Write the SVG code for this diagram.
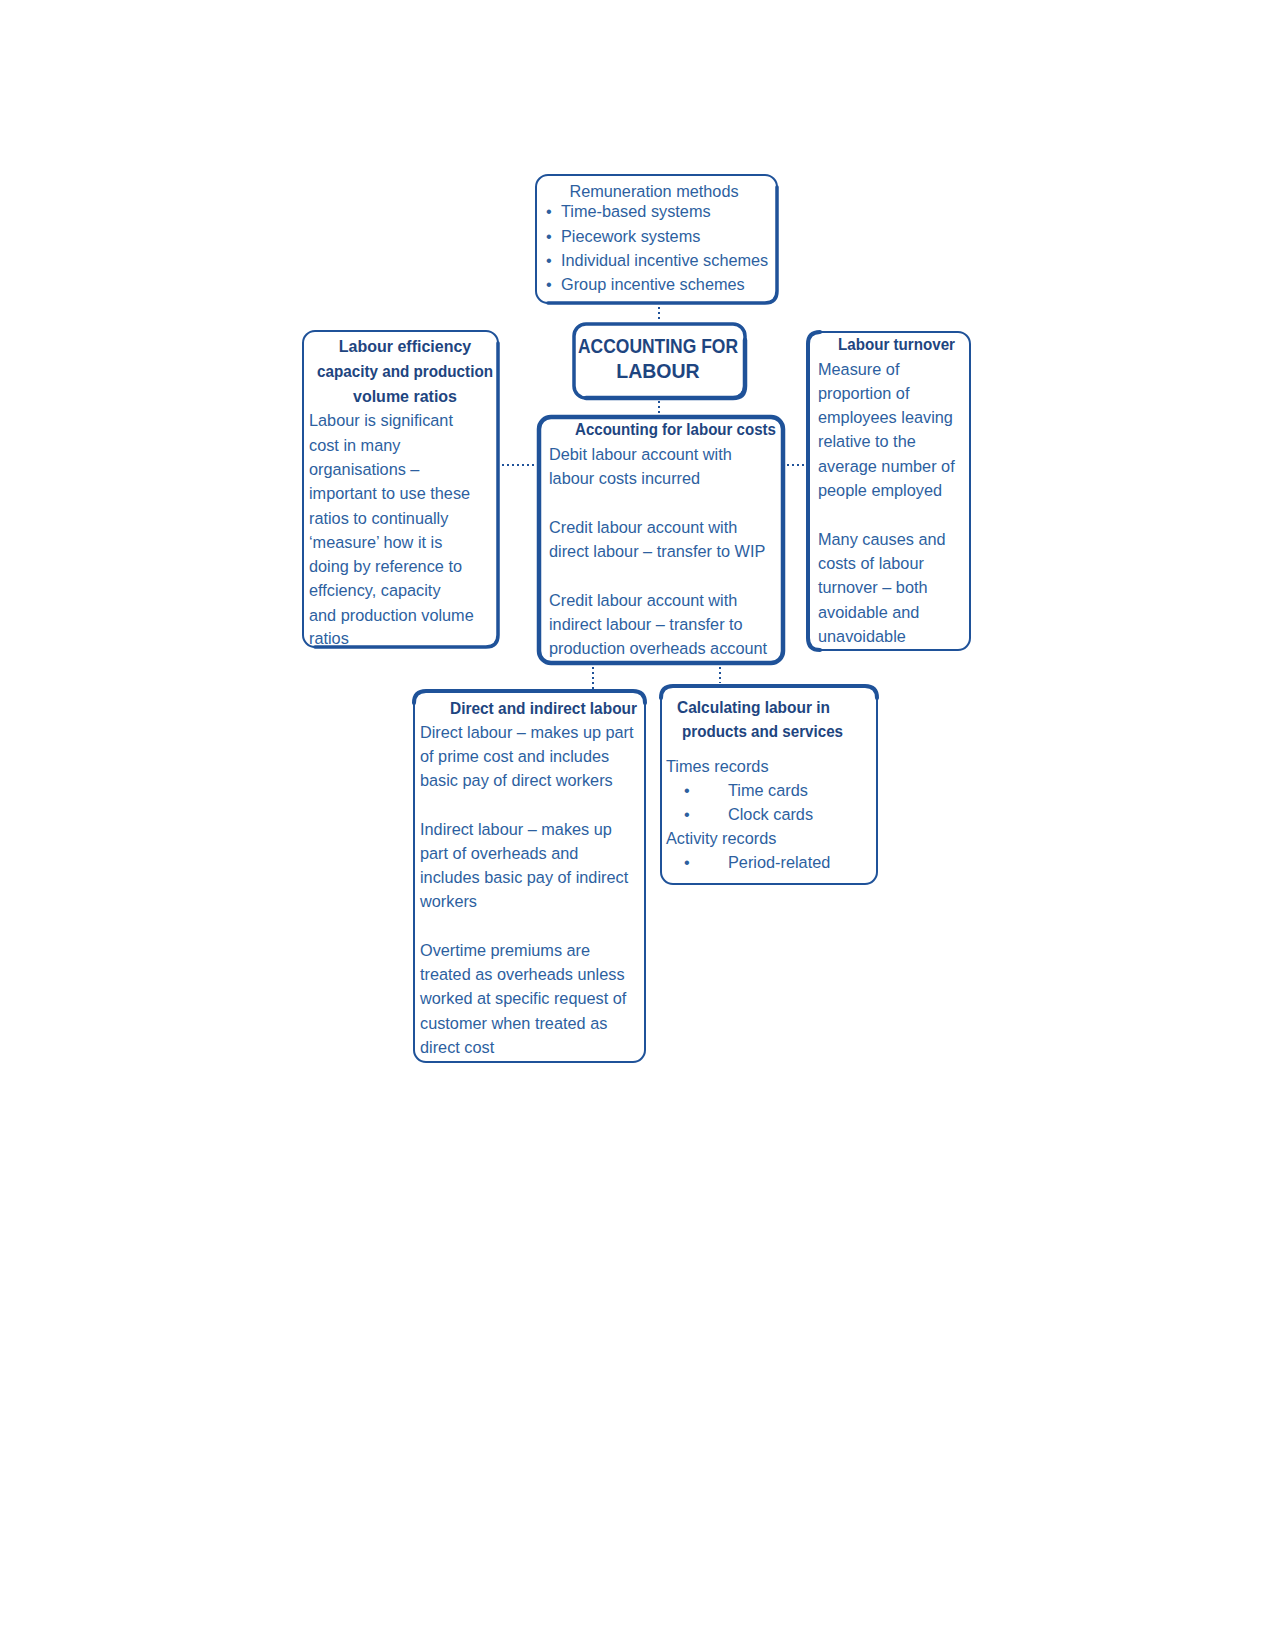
<svg xmlns="http://www.w3.org/2000/svg" width="1275" height="1650" viewBox="0 0 1275 1650">
<style>
.box{fill:#ffffff;stroke:#1f5299;stroke-width:2}
.thick{fill:none;stroke:#1f5299;stroke-linecap:round;stroke-linejoin:round}
.t{font-family:"Liberation Sans",Arial,sans-serif;font-size:16.3px;fill:#2d5f9f}
.b{font-family:"Liberation Sans",Arial,sans-serif;font-size:16px;font-weight:bold;fill:#1e4580}
.h{font-family:"Liberation Sans",Arial,sans-serif;font-size:19.5px;font-weight:bold;fill:#1e4580}
.dot{fill:none;stroke:#1f5299;stroke-width:2;stroke-dasharray:2 3}
</style>
<rect width="1275" height="1650" fill="#ffffff"/>

<g id="connectors">
  <line class="dot" x1="659" y1="307" x2="659" y2="321"/>
  <line class="dot" x1="659" y1="401" x2="659" y2="414"/>
  <line class="dot" x1="502" y1="465" x2="536" y2="465"/>
  <line class="dot" x1="787" y1="465" x2="806" y2="465"/>
  <line class="dot" x1="593" y1="667" x2="593" y2="689"/>
  <line class="dot" x1="720" y1="667" x2="720" y2="683"/>
</g>

<g id="remuneration">
  <rect class="box" x="536" y="175" width="241" height="128" rx="12"/>
  <path class="thick" style="stroke-width:3.5" d="M548 303 H765 Q777 303 777 291 V187"/>
  <text class="t" x="654" y="197" text-anchor="middle">Remuneration methods</text>
  <g class="t">
    <text x="546" y="217">•</text><text x="561" y="217">Time-based systems</text>
    <text x="546" y="242">•</text><text x="561" y="242">Piecework systems</text>
    <text x="546" y="266">•</text><text x="561" y="266">Individual incentive schemes</text>
    <text x="546" y="290">•</text><text x="561" y="290">Group incentive schemes</text>
  </g>
</g>

<g id="accounting-for-labour">
  <rect class="box" x="574" y="324" width="171" height="74" rx="12" style="stroke-width:3.5"/>
  <path class="thick" style="stroke-width:4.5" d="M586 398 H733 Q745 398 745 386 V340"/>
  <text class="h" x="658" y="353" text-anchor="middle" textLength="160" lengthAdjust="spacingAndGlyphs">ACCOUNTING FOR</text>
  <text class="h" x="658" y="378" text-anchor="middle">LABOUR</text>
</g>

<g id="labour-efficiency">
  <rect class="box" x="303" y="331" width="195" height="316" rx="12"/>
  <path class="thick" style="stroke-width:3.5" d="M498 343 V635 Q498 647 486 647 H315"/>
  <text class="b" x="405" y="352" text-anchor="middle">Labour efficiency</text>
  <text class="b" x="405" y="377" text-anchor="middle" textLength="176" lengthAdjust="spacingAndGlyphs">capacity and production</text>
  <text class="b" x="405" y="402" text-anchor="middle">volume ratios</text>
  <g class="t">
    <text x="309" y="426">Labour is significant</text>
    <text x="309" y="451">cost in many</text>
    <text x="309" y="475">organisations –</text>
    <text x="309" y="499">important to use these</text>
    <text x="309" y="524">ratios to continually</text>
    <text x="309" y="548">‘measure’ how it is</text>
    <text x="309" y="572">doing by reference to</text>
    <text x="309" y="596">effciency, capacity</text>
    <text x="309" y="621">and production volume</text>
    <text x="309" y="644">ratios</text>
  </g>
</g>

<g id="labour-costs">
  <rect class="box" x="539" y="417" width="244" height="246" rx="12" style="stroke-width:4.5"/>
  <text class="b" x="776" y="435" text-anchor="end" textLength="201" lengthAdjust="spacingAndGlyphs">Accounting for labour costs</text>
  <g class="t">
    <text x="549" y="460">Debit labour account with</text>
    <text x="549" y="484">labour costs incurred</text>
    <text x="549" y="533">Credit labour account with</text>
    <text x="549" y="557">direct labour – transfer to WIP</text>
    <text x="549" y="606">Credit labour account with</text>
    <text x="549" y="630">indirect labour – transfer to</text>
    <text x="549" y="654">production overheads account</text>
  </g>
</g>

<g id="labour-turnover">
  <rect class="box" x="808" y="332" width="162" height="318" rx="12"/>
  <path class="thick" style="stroke-width:4" d="M820 332 Q808 332 808 344 V638 Q808 650 820 650"/>
  <text class="b" x="955" y="350" text-anchor="end" textLength="117" lengthAdjust="spacingAndGlyphs">Labour turnover</text>
  <g class="t">
    <text x="818" y="375">Measure of</text>
    <text x="818" y="399">proportion of</text>
    <text x="818" y="423">employees leaving</text>
    <text x="818" y="447">relative to the</text>
    <text x="818" y="472">average number of</text>
    <text x="818" y="496">people employed</text>
    <text x="818" y="545">Many causes and</text>
    <text x="818" y="569">costs of labour</text>
    <text x="818" y="593">turnover – both</text>
    <text x="818" y="618">avoidable and</text>
    <text x="818" y="642">unavoidable</text>
  </g>
</g>

<g id="direct-indirect">
  <rect class="box" x="414" y="691" width="231" height="371" rx="12"/>
  <path class="thick" style="stroke-width:4" d="M414 703 Q414 691 426 691 H633 Q645 691 645 703"/>
  <text class="b" x="637" y="714" text-anchor="end" textLength="187" lengthAdjust="spacingAndGlyphs">Direct and indirect labour</text>
  <g class="t">
    <text x="420" y="738">Direct labour – makes up part</text>
    <text x="420" y="762">of prime cost and includes</text>
    <text x="420" y="786">basic pay of direct workers</text>
    <text x="420" y="835">Indirect labour – makes up</text>
    <text x="420" y="859">part of overheads and</text>
    <text x="420" y="883">includes basic pay of indirect</text>
    <text x="420" y="907">workers</text>
    <text x="420" y="956">Overtime premiums are</text>
    <text x="420" y="980">treated as overheads unless</text>
    <text x="420" y="1004">worked at specific request of</text>
    <text x="420" y="1029">customer when treated as</text>
    <text x="420" y="1053">direct cost</text>
  </g>
</g>

<g id="calculating-labour">
  <rect class="box" x="661" y="686" width="216" height="198" rx="12"/>
  <path class="thick" style="stroke-width:4" d="M661 698 Q661 686 673 686 H865 Q877 686 877 698"/>
  <text class="b" x="677" y="713" textLength="153" lengthAdjust="spacingAndGlyphs">Calculating labour in</text>
  <text class="b" x="682" y="737" textLength="161" lengthAdjust="spacingAndGlyphs">products and services</text>
  <g class="t">
    <text x="666" y="772">Times records</text>
    <text x="684" y="796">•</text><text x="728" y="796">Time cards</text>
    <text x="684" y="820">•</text><text x="728" y="820">Clock cards</text>
    <text x="666" y="844">Activity records</text>
    <text x="684" y="868">•</text><text x="728" y="868">Period-related</text>
  </g>
</g>
</svg>
